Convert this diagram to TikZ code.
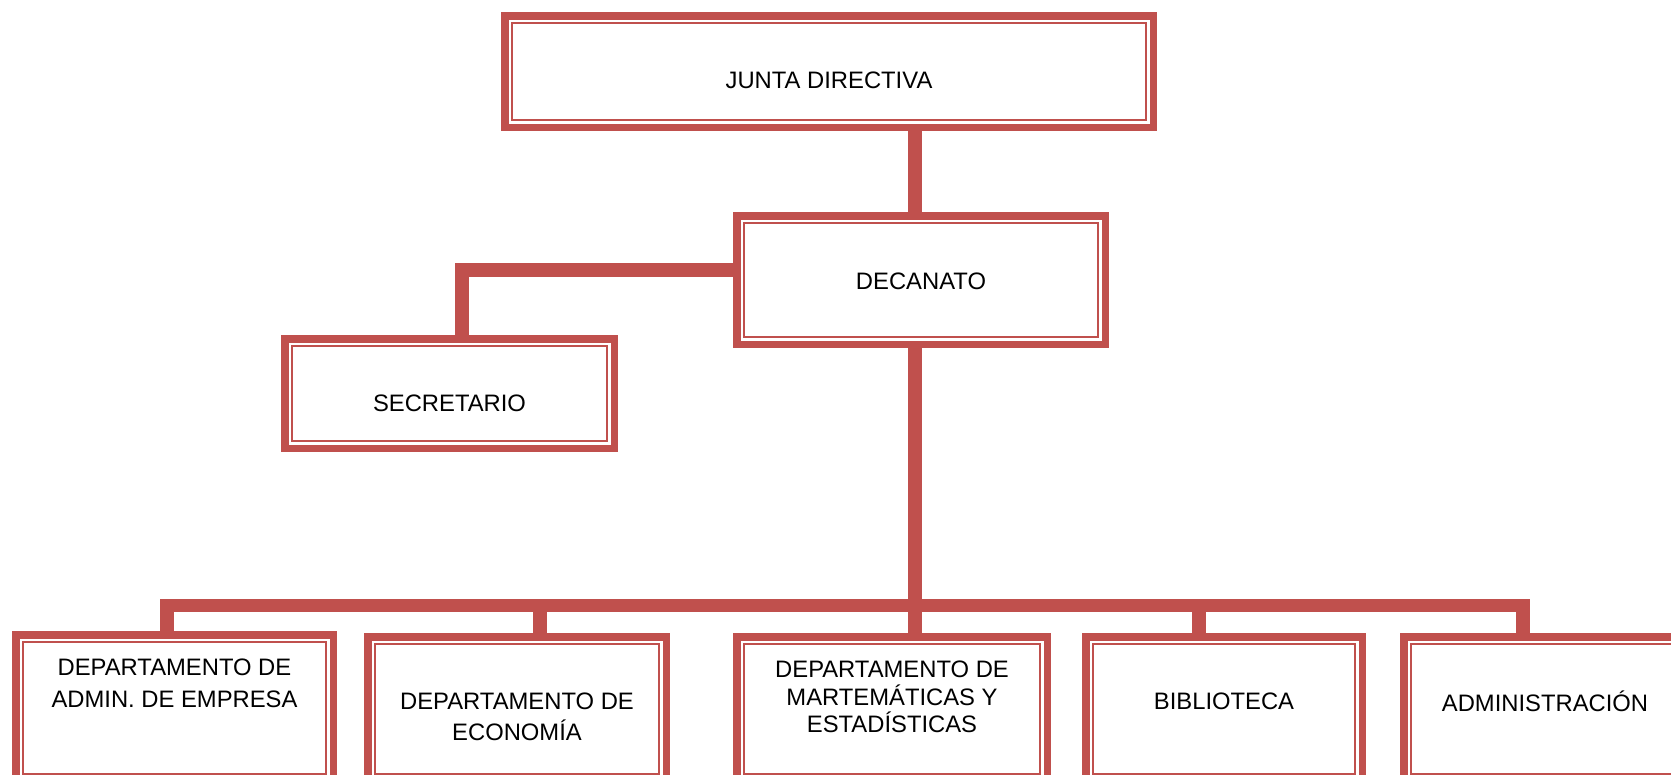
\documentclass[tikz,border=0pt]{standalone}
\usepackage{fontspec}
\setmainfont{Liberation Sans}
\usetikzlibrary{backgrounds}
\definecolor{accred}{HTML}{C0504D}
\tikzset{
  orgbox/.style={rectangle, draw=accred, line width=7.5pt, fill=white, inner sep=0pt, outer sep=0pt,
    path picture={\draw[accred, line width=2.5pt]
      ([shift={(7.25pt,-7.25pt)}]path picture bounding box.north west) rectangle
      ([shift={(-7.25pt,7.25pt)}]path picture bounding box.south east);}},
  conn/.style={draw=accred, line width=13.5pt, line join=miter},
  txt/.style={align=center, inner sep=0pt, text=black, font=\fontsize{23.8}{30}\selectfont},
}
\begin{document}
\begin{tikzpicture}[x=1pt, y=-1pt]
\useasboundingbox (0,0) rectangle (1671,774);
\clip (0,0) rectangle (1671,774);

\node[orgbox, minimum width=648.5pt, minimum height=111.5pt,
  label={[txt, yshift=-9pt]center:JUNTA DIRECTIVA}] (junta) at (829,71.5) {};
\node[orgbox, minimum width=368.5pt, minimum height=128.5pt,
  label={[txt, yshift=-1pt]center:DECANATO}] (decanato) at (921,280) {};
\node[orgbox, minimum width=329.5pt, minimum height=109.5pt,
  label={[txt, yshift=-9.5pt]center:SECRETARIO}] (secretario) at (449.5,393.5) {};

\node[orgbox, minimum width=317.5pt, minimum height=146.5pt,
  label={[txt, font=\fontsize{23.8}{32}\selectfont, yshift=25pt]center:DEPARTAMENTO DE\\ADMIN. DE EMPRESA}] (b1) at (174.5,708) {};
\node[orgbox, minimum width=298.5pt, minimum height=144.5pt,
  label={[txt, font=\fontsize{23.8}{31}\selectfont, yshift=-8pt]center:DEPARTAMENTO DE\\ECONOMÍA}] (b2) at (517,709) {};
\node[orgbox, minimum width=310.5pt, minimum height=144.5pt,
  label={[txt, font=\fontsize{23.8}{27.5}\selectfont, yshift=12pt]center:DEPARTAMENTO DE\\MARTEMÁTICAS Y\\ESTADÍSTICAS}] (b3) at (892,709) {};
\node[orgbox, minimum width=276.5pt, minimum height=144.5pt,
  label={[txt, yshift=7.5pt]center:BIBLIOTECA}] (b4) at (1224,709) {};
\node[orgbox, minimum width=282.5pt, minimum height=144.5pt,
  label={[txt, yshift=7.5pt]center:ADMINISTRACIÓN}] (b5) at (1545,709) {};

\begin{scope}[on background layer]
  \fill[white] (0,0) rectangle (1671,774);
  \draw[conn] (junta.south -| 915,0) -- (decanato.north -| 915,0);
  \draw[conn] (decanato.west |- 0,270) -| (secretario.north -| 462,0);
  \draw[conn] (decanato.south -| 915,0) -- (b3.north -| 915,0);
  \draw[conn] (b1.north -| 167,0) |- (1523,605.5) -- (b5.north -| 1523,0);
  \draw[conn] (540,605.5) -- (b2.north -| 540,0);
  \draw[conn] (1199,605.5) -- (b4.north -| 1199,0);
\end{scope}
\end{tikzpicture}
\end{document}
